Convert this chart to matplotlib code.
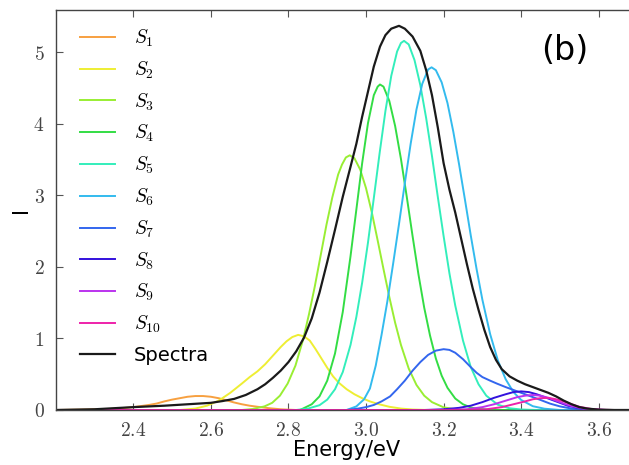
import numpy as np
import matplotlib.pyplot as plt

plt.rcParams["font.family"] = ["DejaVu Sans"]
plt.rcParams["mathtext.fontset"] = "cm"

# ---- data (energy in eV, intensity) ----
s1_e = [2.20, 2.26, 2.30, 2.34, 2.37, 2.40, 2.42, 2.44, 2.46, 2.48, 2.50, 2.52, 2.54, 2.56, 2.58,
        2.60, 2.62, 2.64, 2.66, 2.68, 2.70, 2.72, 2.75, 2.78, 2.82, 3.70]
s1_i = [0.00, 0.005, 0.01, 0.015, 0.025, 0.04, 0.055, 0.07, 0.09, 0.12, 0.145, 0.165, 0.185, 0.195, 0.195,
        0.185, 0.165, 0.135, 0.105, 0.08, 0.06, 0.045, 0.025, 0.01, 0.00, 0.00]

s2_e = [2.20, 2.52, 2.56, 2.59, 2.62, 2.65, 2.68, 2.70, 2.72, 2.74, 2.76, 2.78, 2.795, 2.81, 2.825,
        2.84, 2.855, 2.87, 2.885, 2.90, 2.915, 2.93, 2.95, 2.97, 2.99, 3.01, 3.03, 3.06, 3.09,
        3.12, 3.16, 3.70]
s2_i = [0.00, 0.00, 0.02, 0.06, 0.13, 0.24, 0.37, 0.46, 0.54, 0.64, 0.76, 0.88, 0.96, 1.02, 1.05,
        1.03, 0.97, 0.85, 0.72, 0.59, 0.47, 0.38, 0.29, 0.22, 0.165, 0.12, 0.085, 0.045, 0.02,
        0.007, 0.00, 0.00]

s3_e = [2.20, 2.68, 2.708, 2.738, 2.758, 2.778, 2.798, 2.818, 2.838, 2.853, 2.868, 2.883, 2.898,
        2.913, 2.928, 2.938, 2.948, 2.958, 2.970, 2.985, 3.000, 3.015, 3.030, 3.045, 3.060,
        3.075, 3.090, 3.110, 3.130, 3.150, 3.170, 3.200, 3.230, 3.27, 3.70]
s3_i = [0.00, 0.00, 0.014, 0.05, 0.10, 0.20, 0.37, 0.62, 0.99, 1.34, 1.73, 2.16, 2.59,
        2.97, 3.29, 3.43, 3.53, 3.56, 3.52, 3.36, 3.10, 2.76, 2.37, 1.97, 1.58,
        1.22, 0.91, 0.58, 0.35, 0.20, 0.11, 0.037, 0.01, 0.00, 0.00]

s4_e = [2.20, 2.83, 2.86, 2.88, 2.90, 2.92, 2.94, 2.96, 2.975, 2.99, 3.005, 3.02, 3.03, 3.036,
        3.045, 3.06, 3.075, 3.09, 3.105, 3.12, 3.135, 3.15, 3.165, 3.18, 3.195, 3.21, 3.23,
        3.25, 3.27, 3.29, 3.32, 3.35, 3.70]
s4_i = [0.00, 0.00, 0.08, 0.19, 0.41, 0.79, 1.37, 2.15, 2.80, 3.45, 4.01, 4.40, 4.52, 4.55,
        4.52, 4.32, 3.97, 3.51, 2.98, 2.43, 1.90, 1.43, 1.04, 0.72, 0.48, 0.31, 0.16,
        0.08, 0.035, 0.015, 0.004, 0.00, 0.00]

s5_e = [2.20, 2.82, 2.85, 2.88, 2.90, 2.92, 2.94, 2.96, 2.975, 2.99, 3.005, 3.02, 3.035, 3.05,
        3.065, 3.08, 3.09, 3.098, 3.11, 3.125, 3.14, 3.155, 3.17, 3.185, 3.20, 3.215, 3.23,
        3.25, 3.27, 3.29, 3.31, 3.34, 3.37, 3.40, 3.44, 3.70]
s5_i = [0.00, 0.00, 0.019, 0.067, 0.145, 0.29, 0.53, 0.91, 1.30, 1.78, 2.34, 2.96, 3.59, 4.18,
        4.67, 5.01, 5.13, 5.16, 5.11, 4.89, 4.54, 4.08, 3.55, 2.98, 2.43, 1.91, 1.46,
        0.97, 0.60, 0.36, 0.20, 0.073, 0.024, 0.007, 0.00, 0.00]

s6_e = [2.20, 2.95, 2.975, 2.995, 3.01, 3.025, 3.04, 3.055, 3.07, 3.085, 3.10, 3.115, 3.13, 3.145,
        3.16, 3.169, 3.18, 3.195, 3.21, 3.225, 3.24, 3.255, 3.27, 3.285, 3.30, 3.32, 3.34,
        3.36, 3.38, 3.40, 3.43, 3.46, 3.50, 3.70]
s6_i = [0.00, 0.00, 0.05, 0.15, 0.30, 0.62, 1.05, 1.52, 2.05, 2.60, 3.17, 3.72, 4.20, 4.56,
        4.76, 4.79, 4.75, 4.58, 4.29, 3.89, 3.43, 2.94, 2.44, 1.97, 1.54, 1.06, 0.69,
        0.43, 0.25, 0.14, 0.053, 0.018, 0.00, 0.00]

s7_e = [2.20, 2.95, 2.98, 3.00, 3.02, 3.04, 3.062, 3.08, 3.10, 3.12, 3.14, 3.16, 3.18, 3.20,
        3.215, 3.23, 3.25, 3.268, 3.285, 3.30, 3.32, 3.337, 3.36, 3.38, 3.405, 3.43, 3.45,
        3.474, 3.50, 3.53, 3.57, 3.70]
s7_i = [0.00, 0.00, 0.02, 0.04, 0.07, 0.12, 0.19, 0.29, 0.41, 0.55, 0.67, 0.77, 0.83, 0.85,
        0.84, 0.80, 0.71, 0.61, 0.52, 0.46, 0.41, 0.37, 0.32, 0.28, 0.23, 0.18, 0.14,
        0.09, 0.05, 0.02, 0.00, 0.00]

s8_e = [2.20, 3.15, 3.20, 3.24, 3.27, 3.30, 3.33, 3.36, 3.38, 3.40, 3.42, 3.44, 3.46, 3.48,
        3.50, 3.52, 3.55, 3.58, 3.62, 3.70]
s8_i = [0.00, 0.00, 0.01, 0.03, 0.06, 0.11, 0.17, 0.22, 0.25, 0.26, 0.25, 0.22, 0.18, 0.14,
        0.10, 0.06, 0.025, 0.005, 0.00, 0.00]

s9_e = [2.20, 3.20, 3.26, 3.30, 3.33, 3.36, 3.39, 3.41, 3.43, 3.45, 3.47, 3.49, 3.51, 3.53,
        3.56, 3.59, 3.62, 3.70]
s9_i = [0.00, 0.00, 0.01, 0.04, 0.08, 0.13, 0.18, 0.20, 0.21, 0.20, 0.17, 0.13, 0.09, 0.055,
        0.02, 0.005, 0.00, 0.00]

s10_e = [2.20, 3.25, 3.31, 3.35, 3.38, 3.41, 3.43, 3.45, 3.47, 3.49, 3.51, 3.53, 3.55, 3.58,
         3.61, 3.64, 3.70]
s10_i = [0.00, 0.00, 0.01, 0.04, 0.08, 0.12, 0.15, 0.165, 0.17, 0.15, 0.12, 0.08, 0.045, 0.015,
         0.003, 0.00, 0.00]

spec_e = [2.20, 2.30, 2.40, 2.48, 2.54, 2.60, 2.63, 2.66, 2.69, 2.72, 2.74, 2.76, 2.78, 2.80,
          2.82, 2.84, 2.86, 2.88, 2.90, 2.92, 2.94, 2.96, 2.975, 2.99, 3.005, 3.02, 3.036,
          3.05, 3.065, 3.085, 3.10, 3.12, 3.14, 3.155, 3.17, 3.185, 3.20, 3.215, 3.23, 3.245,
          3.26, 3.275, 3.29, 3.305, 3.32, 3.335, 3.35, 3.37, 3.39, 3.41, 3.43, 3.45, 3.47,
          3.49, 3.51, 3.53, 3.55, 3.57, 3.60, 3.64, 3.70]
spec_i = [0.00, 0.01, 0.04, 0.06, 0.08, 0.10, 0.125, 0.155, 0.21, 0.29, 0.36, 0.45, 0.55, 0.67,
          0.82, 1.01, 1.28, 1.64, 2.07, 2.52, 2.98, 3.40, 3.72, 4.10, 4.45, 4.80, 5.08,
          5.24, 5.33, 5.37, 5.33, 5.22, 5.02, 4.75, 4.40, 3.95, 3.45, 3.08, 2.76, 2.40,
          2.04, 1.70, 1.40, 1.12, 0.88, 0.70, 0.57, 0.47, 0.41, 0.36, 0.32, 0.28, 0.24,
          0.19, 0.13, 0.08, 0.04, 0.02, 0.005, 0.00, 0.00]

components = [
    (s1_e, s1_i), (s2_e, s2_i), (s3_e, s3_i), (s4_e, s4_i), (s5_e, s5_i),
    (s6_e, s6_i), (s7_e, s7_i), (s8_e, s8_i), (s9_e, s9_i), (s10_e, s10_i),
]
labels = [rf"$S_{{{k}}}$" for k in range(1, 11)]
colors = ["#f7a040", "#eeee33", "#99ee33", "#33dd44", "#33eebb",
          "#33bbee", "#3366ee", "#3311dd", "#bb33ee", "#ee22aa"]

xticks = [2.4, 2.6, 2.8, 3.0, 3.2, 3.4, 3.6]
yticks = [0, 1, 2, 3, 4, 5]

fig = plt.figure(figsize=(6.29, 4.65), dpi=100)
ax = fig.add_axes([0.0886, 0.1183, 0.925, 0.860])

for (e, i), lab, c in zip(components, labels, colors):
    ax.plot(e, i, color=c, lw=1.4, label=lab)
ax.plot(spec_e, spec_i, color="#1a1a1a", lw=1.6, label="Spectra")

ax.set_xlim(2.2, 3.7)
ax.set_ylim(0, 5.59)
ax.set_xticks(xticks)
ax.set_xticklabels([rf"${v:.1f}$" for v in xticks])
ax.set_yticks(yticks)
ax.set_yticklabels([rf"${v}$" for v in yticks])
ax.tick_params(direction="in", top=True, right=True, length=5, width=0.8,
               labelsize=14, labelcolor="#444444", color="#555555", pad=8)
for sp in ax.spines.values():
    sp.set_color("#444444")
    sp.set_linewidth(1.0)

ax.set_xlabel("Energy/eV", fontsize=15, labelpad=0)
ax.set_ylabel("I", fontsize=15, labelpad=2)

ax.legend(loc="upper left", frameon=False, fontsize=14, handlelength=1.8,
          labelspacing=0.54, handletextpad=0.95, bbox_to_anchor=(0.012, 1.0))

ax.text(0.875, 0.90, "(b)", transform=ax.transAxes, fontsize=24,
        ha="center", va="center")

fig.savefig("out.png", dpi=100)
